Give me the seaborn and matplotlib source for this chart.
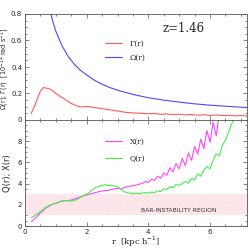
import numpy as np
import pandas as pd
import matplotlib
matplotlib.use("Agg")
import matplotlib.pyplot as plt
import seaborn as sns
from matplotlib.ticker import MultipleLocator

# ---- data ----
r_omega = [0.8, 0.9, 1.0, 1.2, 1.4, 1.6, 1.8, 2.0, 2.25, 2.5, 2.75, 3.0, 3.5, 4.0,
           4.5, 5.0, 5.5, 6.0, 6.5, 7.0, 7.2]
omega = [0.84, 0.745, 0.67, 0.56, 0.48, 0.42, 0.375, 0.34, 0.30, 0.27, 0.245, 0.225,
         0.193, 0.168, 0.15, 0.135, 0.122, 0.112, 0.104, 0.097, 0.094]

r_gamma = [0.2, 0.3, 0.4, 0.5, 0.6, 0.7, 0.8, 0.9, 1.0, 1.1, 1.2, 1.3, 1.4, 1.5, 1.6,
           1.7, 1.8, 1.9, 2.0, 2.1, 2.2, 2.4, 2.6, 2.8, 3.0, 3.2, 3.4, 3.6, 3.8, 4.0,
           4.2, 4.4, 4.6, 4.8, 5.0, 5.2, 5.4, 5.6, 5.8, 6.0, 6.2, 6.4, 6.6, 6.8, 7.0, 7.2]
gamma = [0.05, 0.10, 0.16, 0.22, 0.245, 0.24, 0.235, 0.22, 0.20, 0.185, 0.17, 0.155,
         0.14, 0.125, 0.115, 0.105, 0.10, 0.10, 0.102, 0.10, 0.095, 0.09, 0.082, 0.075,
         0.068, 0.06, 0.055, 0.052, 0.05, 0.047, 0.05, 0.043, 0.046, 0.04, 0.044, 0.038,
         0.042, 0.036, 0.04, 0.034, 0.038, 0.033, 0.036, 0.031, 0.034, 0.031]

r_q = [0.2, 0.3, 0.4, 0.5, 0.6, 0.7, 0.8, 0.9, 1.0, 1.1, 1.2, 1.3, 1.4, 1.5, 1.6, 1.7,
       1.8, 1.9, 2.0, 2.1, 2.2, 2.3, 2.4, 2.5, 2.6, 2.7, 2.8, 2.9, 3.0, 3.1, 3.2, 3.3,
       3.4, 3.5, 3.6, 3.7, 3.8, 3.9, 4.0, 4.1, 4.2, 4.3, 4.4, 4.5, 4.6, 4.7, 4.8, 4.9,
       5.0, 5.1, 5.2, 5.3, 5.4, 5.5, 5.6, 5.7, 5.8, 5.9, 6.0, 6.1, 6.2, 6.3, 6.4, 6.5,
       6.6, 6.7, 6.8]
q_vals = [0.8, 0.95, 1.15, 1.35, 1.6, 1.8, 1.95, 2.05, 2.15, 2.25, 2.35, 2.4, 2.38,
          2.35, 2.4, 2.55, 2.7, 2.85, 3.0, 3.2, 3.45, 3.65, 3.75, 3.8, 3.9, 3.8, 3.85,
          3.75, 3.7, 3.5, 3.25, 3.15, 3.1, 3.05, 3.1, 3.05, 3.1, 3.15, 3.1, 3.2, 3.15,
          3.3, 3.25, 3.5, 3.45, 3.7, 3.6, 3.9, 3.85, 4.0, 4.2, 4.05, 4.5, 4.35, 4.9,
          4.7, 5.3, 5.6, 5.4, 6.2, 6.8, 6.6, 7.6, 8.1, 8.8, 9.6, 10.3]

r_x = [0.2, 0.3, 0.4, 0.5, 0.6, 0.7, 0.8, 0.9, 1.0, 1.1, 1.2, 1.3, 1.4, 1.5, 1.6, 1.7,
       1.8, 1.9, 2.0, 2.1, 2.2, 2.3, 2.4, 2.5, 2.6, 2.7, 2.8, 2.9, 3.0, 3.1, 3.2, 3.3,
       3.4, 3.5, 3.6, 3.7, 3.8, 3.9, 4.0, 4.1, 4.2, 4.3, 4.4, 4.5, 4.6, 4.7, 4.8, 4.9,
       5.0, 5.1, 5.2, 5.3, 5.4, 5.5, 5.6, 5.7, 5.8, 5.9, 6.0, 6.1, 6.2, 6.3]
x_vals = [0.4, 0.65, 0.95, 1.25, 1.5, 1.75, 1.9, 2.05, 2.15, 2.25, 2.35, 2.4, 2.4,
          2.45, 2.55, 2.65, 2.75, 2.85, 2.95, 3.0, 3.1, 3.15, 3.25, 3.3, 3.35, 3.35,
          3.45, 3.5, 3.55, 3.5, 3.6, 3.7, 3.75, 3.8, 3.85, 3.95, 4.0, 4.2, 4.1, 4.4,
          4.3, 4.7, 4.5, 5.0, 4.8, 5.5, 5.1, 5.9, 5.4, 6.4, 5.7, 6.9, 6.2, 7.5, 6.8,
          8.2, 7.3, 9.0, 7.9, 9.8, 8.5, 10.5]

xticks = [0, 2, 4, 6]
top_yticks = [0, 0.2, 0.4, 0.6, 0.8]
bot_yticks = [0, 2, 4, 6, 8]

# ---- style ----
sns.set_style("ticks")
plt.rcParams["font.family"] = ["DejaVu Sans"]
plt.rcParams["xtick.direction"] = "in"
plt.rcParams["ytick.direction"] = "in"
plt.rcParams["hatch.linewidth"] = 0.4

fig = plt.figure(figsize=(2.49, 2.49), dpi=100)
L, W = 25 / 249, 222 / 249
ax1 = fig.add_axes([L, 1 - 120 / 249, W, 106 / 249])
ax2 = fig.add_axes([L, 1 - 226 / 249, W, 106 / 249])

serif = ["DejaVu Serif"]

# top panel
sns.lineplot(x=r_gamma, y=gamma, ax=ax1, color="#ff5a5a", lw=0.8, label="Γ(r)")
sns.lineplot(x=r_omega, y=omega, ax=ax1, color="#4a4aff", lw=0.8, label="Ω(r)")
ax1.set_xlim(0, 7.2)
ax1.set_ylim(0, 0.8)
ax1.set_yticks(top_yticks)
ax1.set_yticklabels(["0", "0.2", "0.4", "0.6", "0.8"])
ax1.set_xticks(xticks)
ax1.tick_params(labelbottom=False)
ax1.xaxis.set_minor_locator(MultipleLocator(0.5))
ax1.yaxis.set_minor_locator(MultipleLocator(0.05))
ax1.set_ylabel("Ω(r); Γ(r)  [10$^{-14}$ rad s$^{-1}$]", fontsize=4.7)
ax1.yaxis.set_label_coords(-0.062, 0.48)
ax1.text(0.62, 0.86, "z=1.46", transform=ax1.transAxes, fontsize=8.5,
         family=serif, va="center", ha="left")
ax1.legend(loc="upper left", bbox_to_anchor=(0.33, 0.82), frameon=False,
           handlelength=2.2, labelspacing=0.75, handletextpad=1.0,
           prop={"family": serif, "size": 5.5})

# bottom panel
ax2.axhspan(1, 3, facecolor="#fde9ec", edgecolor="#fad9dd", hatch="//////", lw=0)
sns.lineplot(x=r_x, y=x_vals, ax=ax2, color="#ff44ff", lw=0.8, label="X(r)")
sns.lineplot(x=r_q, y=q_vals, ax=ax2, color="#44ee44", lw=0.8, label="Q(r)")
ax2.set_xlim(0, 7.2)
ax2.set_ylim(0, 10)
ax2.set_xticks(xticks)
ax2.set_xticklabels(["0", "2", "4", "6"])
ax2.set_yticks(bot_yticks)
ax2.xaxis.set_minor_locator(MultipleLocator(0.5))
ax2.yaxis.set_minor_locator(MultipleLocator(0.5))
ax2.set_ylabel("Q(r); X(r)", fontsize=6)
ax2.yaxis.set_label_coords(-0.06, 0.5)
ax2.set_xlabel("r  [kpc h$^{-1}$]", fontsize=6, family=serif)
ax2.xaxis.set_label_coords(0.5, -0.085)
ax2.text(5.0, 1.45, "BAR-INSTABILITY REGION", fontsize=4.3, color="#333333",
         ha="center", va="center")
ax2.legend(loc="upper left", bbox_to_anchor=(0.33, 0.9), frameon=False,
           handlelength=2.2, labelspacing=1.2, handletextpad=1.0,
           prop={"family": serif, "size": 5.5})

for ax in (ax1, ax2):
    ax.tick_params(which="both", top=True, right=True, labelsize=5, width=0.5,
                   color="#555555", pad=2)
    ax.tick_params(which="major", length=3)
    ax.tick_params(which="minor", length=1.5)
    for s in ax.spines.values():
        s.set_linewidth(0.6)
        s.set_color("#555555")

fig.savefig("out.png", dpi=100)
